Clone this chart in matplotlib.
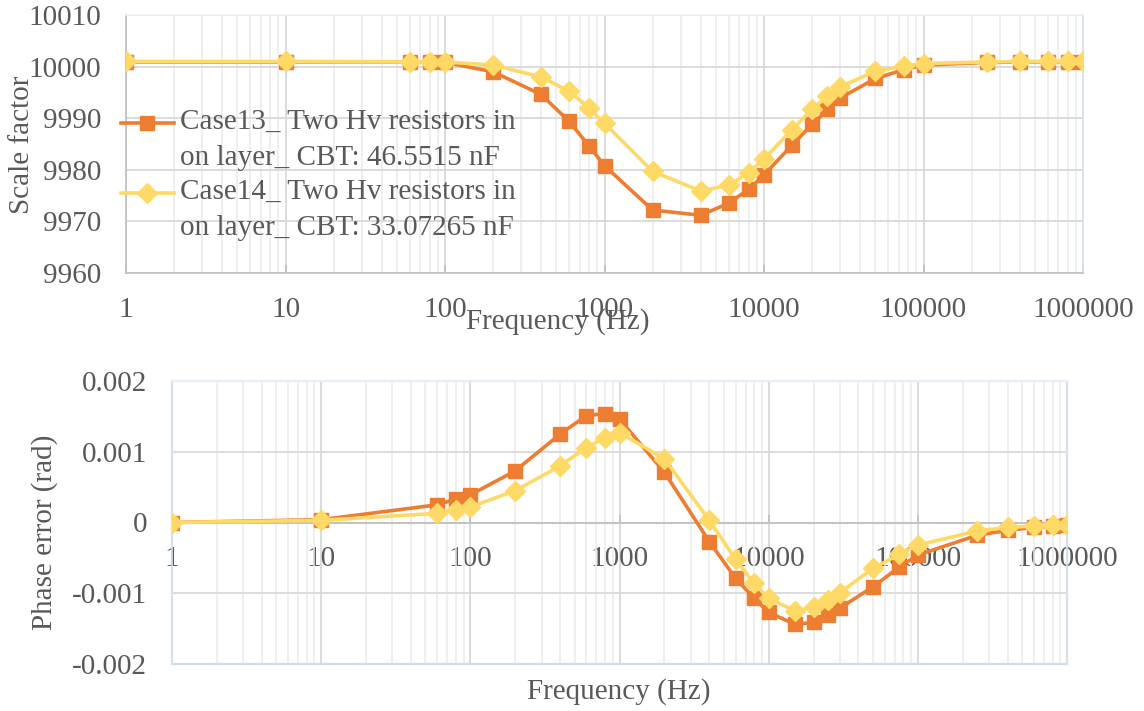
import numpy as np
import matplotlib
matplotlib.use('Agg')
import matplotlib.pyplot as plt
from matplotlib.legend_handler import HandlerLine2D
from matplotlib.ticker import LogLocator, FixedLocator, FuncFormatter

plt.rcParams['font.family'] = ['Liberation Serif', 'DejaVu Serif']

# data
freq = [1, 10, 60, 80, 100, 200, 400, 600, 800, 1000, 2000, 4000, 6000, 8000,
        10000, 15000, 20000, 25000, 30000, 50000, 75000, 100000, 250000,
        400000, 600000, 800000, 1000000]

scale13 = [10000.9, 10000.9, 10000.9, 10000.9, 10000.8, 9999.0, 9994.6, 9989.4,
           9984.6, 9980.8, 9972.2, 9971.2, 9973.5, 9976.2, 9979.0, 9984.8,
           9988.8, 9991.7, 9993.9, 9997.7, 9999.4, 10000.3, 10000.8, 10000.9,
           10000.9, 10000.9, 10000.9]
scale14 = [10001.0, 10001.0, 10000.9, 10000.9, 10000.9, 10000.3, 9998.0, 9995.2,
           9992.0, 9989.0, 9979.7, 9975.9, 9977.0, 9979.4, 9982.1, 9987.8,
           9991.7, 9994.3, 9996.1, 9999.1, 10000.1, 10000.6, 10000.9, 10001.0,
           10001.0, 10001.0, 10001.0]

phase13 = [0, 0.00004, 0.00025, 0.00033, 0.00039, 0.00073, 0.00125, 0.00151,
           0.00154, 0.00146, 0.00071, -0.00027, -0.00079, -0.00107, -0.00127,
           -0.00144, -0.00141, -0.00131, -0.00121, -0.00091, -0.00063, -0.00046,
           -0.00018, -0.00011, -0.00007, -0.00005, -0.00004]
phase14 = [0, 0.00003, 0.00013, 0.00018, 0.00022, 0.00045, 0.0008, 0.00106,
           0.0012, 0.00127, 0.0009, 0.00003, -0.00052, -0.00086, -0.00107,
           -0.00125, -0.0012, -0.0011, -0.00099, -0.00065, -0.00045, -0.00032,
           -0.00012, -0.00007, -0.00005, -0.00003, -0.00003]

label13 = 'Case13_ Two Hv resistors in\non layer_ CBT: 46.5515 nF'
label14 = 'Case14_ Two Hv resistors in\non layer_ CBT: 33.07265 nF'
xticks = [1, 10, 100, 1000, 10000, 100000, 1000000]

orange = '#ED7D31'
yellow = '#FFD966'
txt = '#595959'
fs = 21


class FirstLineHandler(HandlerLine2D):
    # put the legend handle next to the first text line
    def create_artists(self, legend, orig_handle, xdescent, ydescent,
                       width, height, fontsize, trans):
        return super().create_artists(legend, orig_handle, xdescent,
                                      ydescent - 24, width, height,
                                      fontsize, trans)


def style_axes(ax):
    ax.set_xscale('log')
    ax.set_xlim(1, 1000000)
    ax.xaxis.set_major_locator(FixedLocator(xticks))
    ax.xaxis.set_minor_locator(LogLocator(base=10, subs=np.arange(2, 10)))
    ax.xaxis.set_major_formatter(FuncFormatter(lambda v, p: '%d' % round(v)))
    ax.xaxis.set_minor_formatter(FuncFormatter(lambda v, p: ''))
    ax.grid(True, which='major', color='#D9D9D9', lw=1.3)
    ax.grid(True, which='minor', axis='x', color='#EBEBEB', lw=1.1)
    ax.set_axisbelow(True)
    ax.tick_params(axis='both', colors=txt, labelsize=fs, labelcolor=txt)
    ax.tick_params(axis='y', length=0, pad=18)
    ax.tick_params(axis='x', which='major', direction='in', length=6,
                   color='#BFBFBF', width=1.2)
    ax.tick_params(axis='x', which='minor', length=0)
    for s in ax.spines.values():
        s.set_color('#D6E3F0')
        s.set_linewidth(1.2)


fig = plt.figure(figsize=(11.44, 7.11), dpi=100)

# top: scale factor
ax1 = fig.add_axes([126 / 1144, 1 - 273 / 711, 957 / 1144, 258 / 711])
style_axes(ax1)
ax1.set_ylim(9960, 10010)
ax1.set_yticks(np.arange(9960, 10011, 10))
ax1.spines['left'].set_color('#BFBFBF')
ax1.spines['bottom'].set_color('#BFBFBF')
ax1.spines['top'].set_color('#EEF2F6')
ax1.tick_params(axis='x', pad=17)
ax1.plot(freq, scale13, color=orange, lw=2.6, marker='s', ms=9.5,
         label=label13, zorder=3)
ax1.plot(freq, scale14, color=yellow, lw=2.6, marker='D', ms=10,
         label=label14, zorder=4)
leg = ax1.legend(loc='upper left', bbox_to_anchor=(-0.005, 0.635),
                 frameon=False, fontsize=fs, handlelength=1.8,
                 handletextpad=0.22, labelspacing=0.27, borderpad=0,
                 borderaxespad=0,
                 handler_map={matplotlib.lines.Line2D: FirstLineHandler()})
for t in leg.get_texts():
    t.set_color(txt)
    t.set_linespacing(1.5)

fig.text(22 / 1144, 1 - 145 / 711, 'Scale factor', rotation=90, fontsize=fs,
         color=txt, ha='center', va='center')
fig.text(558 / 1144, 1 - 322 / 711, 'Frequency (Hz)', fontsize=fs,
         color=txt, ha='center', va='center')

# bottom: phase error
ax2 = fig.add_axes([172 / 1144, 1 - 664 / 711, 895 / 1144, 283 / 711])
style_axes(ax2)
ax2.set_ylim(-0.002, 0.002)
ax2.set_yticks([-0.002, -0.001, 0, 0.001, 0.002])
ax2.yaxis.set_major_formatter(FuncFormatter(
    lambda v, p: '0' if abs(v) < 1e-12 else ('%.3f' % v)))
ax2.spines['bottom'].set_position(('data', 0))
ax2.spines['bottom'].set_color('#BFBFBF')
ax2.spines['bottom'].set_zorder(2)
ax2.spines['top'].set_color('#EEF2F6')
ax2.patch.set_edgecolor('#C9DCEF')
ax2.patch.set_linewidth(1.6)
ax2.tick_params(axis='x', pad=17)
ax2.plot(freq, phase13, color=orange, lw=2.6, marker='s', ms=9.5, zorder=3)
ax2.plot(freq, phase14, color=yellow, lw=2.6, marker='D', ms=10, zorder=4)

fig.text(45 / 1144, 1 - 532 / 711, 'Phase error (rad)', rotation=90,
         fontsize=fs, color=txt, ha='center', va='center')
fig.text(619 / 1144, 1 - 692 / 711, 'Frequency (Hz)', fontsize=fs,
         color=txt, ha='center', va='center')

fig.savefig('out.png', dpi=100)
